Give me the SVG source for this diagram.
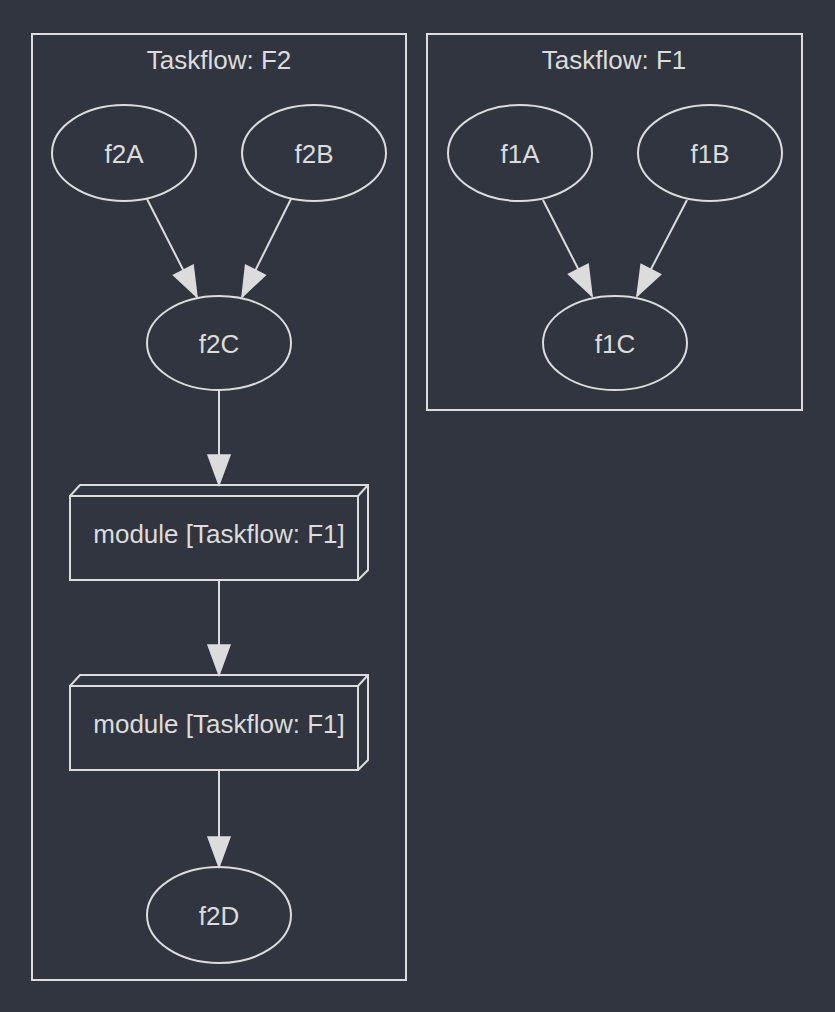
<svg xmlns="http://www.w3.org/2000/svg" width="835" height="1012" viewBox="0 0 835 1012">
<style>
.cl{fill:none;stroke:#dcdcdc;stroke-width:2}
.nd{fill:none;stroke:#dcdcdc;stroke-width:2}
.t{font-family:"Liberation Sans",Arial,sans-serif;font-size:26px;fill:#dcdcdc;text-anchor:middle}
.e{stroke:#dcdcdc;stroke-width:2;fill:none;marker-end:url(#ah)}
</style>
<defs>
<marker id="ah" markerUnits="userSpaceOnUse" markerWidth="34" markerHeight="26" refX="31" refY="12" orient="auto" viewBox="-1 -1 34 26">
<path d="M1,1 L31,12 L1,23 z" fill="#dcdcdc" stroke="#dcdcdc" stroke-width="1.5"/>
</marker>
</defs>
<rect width="835" height="1012" fill="#30353f"/>
<g id="cluster_F2">
<rect class="cl" x="32" y="34" width="374" height="946"/>
<text class="t" x="219" y="69">Taskflow: F2</text>
</g>
<g id="cluster_F1">
<rect class="cl" x="427" y="34" width="375" height="376"/>
<text class="t" x="614" y="69">Taskflow: F1</text>
</g>
<g id="f2A"><ellipse class="nd" cx="124" cy="153" rx="72" ry="48"/><text class="t" x="124" y="163">f2A</text></g>
<g id="f2B"><ellipse class="nd" cx="314" cy="153" rx="72" ry="48"/><text class="t" x="314" y="163">f2B</text></g>
<g id="f2C"><ellipse class="nd" cx="219" cy="343" rx="72" ry="47"/><text class="t" x="219" y="353">f2C</text></g>
<g id="m1">
<path class="nd" d="M70,496 H358 V580 H70 Z M70,496 L80,485 H368 V570 L358,580 M358,496 L368,485"/>
<text class="t" x="219" y="543">module [Taskflow: F1]</text>
</g>
<g id="m2">
<path class="nd" d="M70,686 H358 V770 H70 Z M70,686 L80,675 H368 V760 L358,770 M358,686 L368,675"/>
<text class="t" x="219" y="733">module [Taskflow: F1]</text>
</g>
<g id="f2D"><ellipse class="nd" cx="219" cy="915" rx="72" ry="48"/><text class="t" x="219" y="925">f2D</text></g>
<g id="f1A"><ellipse class="nd" cx="520" cy="153" rx="72" ry="48"/><text class="t" x="520" y="163">f1A</text></g>
<g id="f1B"><ellipse class="nd" cx="710" cy="153" rx="72" ry="48"/><text class="t" x="710" y="163">f1B</text></g>
<g id="f1C"><ellipse class="nd" cx="615" cy="343" rx="72" ry="47"/><text class="t" x="615" y="353">f1C</text></g>
<g id="edges">
<line class="e" x1="147" y1="199" x2="197" y2="297"/>
<line class="e" x1="291" y1="199" x2="242" y2="297"/>
<line class="e" x1="219" y1="391" x2="219" y2="485"/>
<line class="e" x1="219" y1="581" x2="219" y2="675"/>
<line class="e" x1="219" y1="771" x2="219" y2="867"/>
<line class="e" x1="543" y1="200" x2="592" y2="296"/>
<line class="e" x1="687" y1="200" x2="637" y2="296"/>
</g>
</svg>
